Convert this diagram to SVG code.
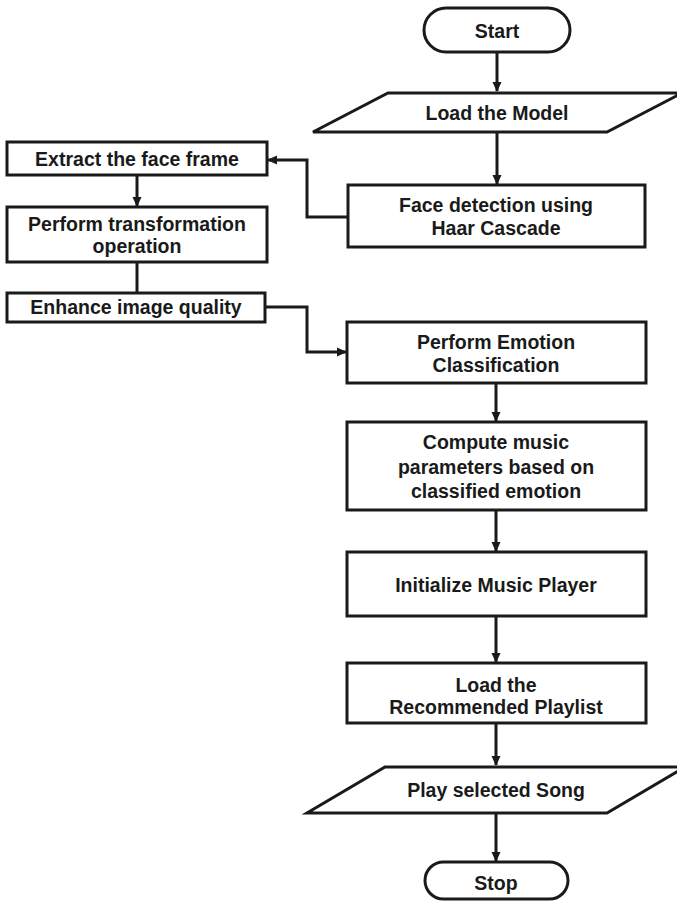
<svg xmlns="http://www.w3.org/2000/svg" width="677" height="901" viewBox="0 0 677 901">
<style>
.s{fill:#fff;stroke:#1a1a1a;stroke-width:3}
.t{font-family:"Liberation Sans",Arial,sans-serif;font-weight:bold;font-size:19.5px;fill:#1a1a1a;text-anchor:middle}
.c{fill:none;stroke:#1a1a1a;stroke-width:3}
</style>
<defs>
<marker id="ah" markerWidth="10" markerHeight="10" refX="9" refY="5" orient="auto" markerUnits="userSpaceOnUse">
<path d="M0,0.5 L10,5 L0,9.5 Z" fill="#1a1a1a"/>
</marker>
</defs>
<rect width="677" height="901" fill="#fff"/>
<g id="connectors">
<path class="c" d="M497,52 V91" marker-end="url(#ah)"/>
<path class="c" d="M497,132 V184" marker-end="url(#ah)"/>
<path class="c" d="M348,217 H307 V160 H268" marker-end="url(#ah)"/>
<path class="c" d="M137,175 V206" marker-end="url(#ah)"/>
<path class="c" d="M137,262 V293"/>
<path class="c" d="M265,307 H307 V352 H346" marker-end="url(#ah)"/>
<path class="c" d="M496,383 V421" marker-end="url(#ah)"/>
<path class="c" d="M496,510 V551" marker-end="url(#ah)"/>
<path class="c" d="M496,616 V662" marker-end="url(#ah)"/>
<path class="c" d="M496,723 V765" marker-end="url(#ah)"/>
<path class="c" d="M496,813 V861" marker-end="url(#ah)"/>
</g>
<g id="start">
<rect class="s" x="424" y="8" width="146" height="44" rx="22"/>
<text class="t" x="497" y="38">Start</text>
</g>
<g id="load-model">
<polygon class="s" points="388,93 682,93 607,132 313,132"/>
<text class="t" x="497" y="120">Load the Model</text>
</g>
<g id="face-detection">
<rect class="s" x="348" y="185" width="297" height="62"/>
<text class="t" x="496" y="212">Face detection using</text>
<text class="t" x="496" y="235">Haar Cascade</text>
</g>
<g id="extract">
<rect class="s" x="7" y="142" width="260" height="33"/>
<text class="t" x="137" y="166">Extract the face frame</text>
</g>
<g id="transform">
<rect class="s" x="7" y="207" width="260" height="55"/>
<text class="t" x="137" y="231">Perform transformation</text>
<text class="t" x="137" y="253">operation</text>
</g>
<g id="enhance">
<rect class="s" x="7" y="293" width="258" height="29"/>
<text class="t" x="136" y="314">Enhance image quality</text>
</g>
<g id="emotion">
<rect class="s" x="347" y="322" width="299" height="61"/>
<text class="t" x="496" y="349">Perform Emotion</text>
<text class="t" x="496" y="372">Classification</text>
</g>
<g id="compute">
<rect class="s" x="347" y="422" width="299" height="88"/>
<text class="t" x="496" y="449">Compute music</text>
<text class="t" x="496" y="474">parameters based on</text>
<text class="t" x="496" y="498">classified emotion</text>
</g>
<g id="init-player">
<rect class="s" x="347" y="552" width="299" height="64"/>
<text class="t" x="496" y="592">Initialize Music Player</text>
</g>
<g id="load-playlist">
<rect class="s" x="347" y="663" width="299" height="60"/>
<text class="t" x="496" y="692">Load the</text>
<text class="t" x="496" y="714">Recommended Playlist</text>
</g>
<g id="play">
<polygon class="s" points="385,767 685,767 607,813 307,813"/>
<text class="t" x="496" y="797">Play selected Song</text>
</g>
<g id="stop">
<rect class="s" x="425" y="862" width="143" height="37" rx="18.5"/>
<text class="t" x="496" y="890">Stop</text>
</g>
</svg>
